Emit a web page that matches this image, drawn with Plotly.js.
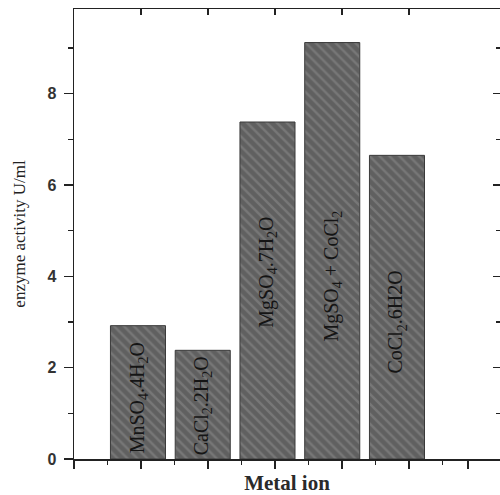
<!DOCTYPE html>
<html>
<head>
<meta charset="utf-8">
<script src="https://cdn.plot.ly/plotly-3.0.1.min.js"></script>
<style>html,body{margin:0;padding:0;background:#fff;}#chart{width:500px;height:495px;}</style>
</head>
<body>
<div id="chart"></div>
<script>
// ---- data ----
const categories = ["MnSO4.4H2O", "CaCl2.2H2O", "MgSO4.7H2O", "MgSO4 + CoCl2", "CoCl2.6H2O"];
const barLabels = [
  "MnSO<sub>4</sub>.4H<sub>2</sub>O",
  "CaCl<sub>2</sub>.2H<sub>2</sub>O",
  "MgSO<sub>4</sub>.7H<sub>2</sub>O",
  "MgSO<sub>4</sub> + CoCl<sub>2</sub>",
  "CoCl<sub>2</sub>.6H2O"
];
const activity = [2.92, 2.38, 7.38, 9.12, 6.65];
const yTickVals = [0, 2, 4, 6, 8];
const yTickText = ["0", "2", "4", "6", "8"];

// ---- layout helpers (placement only) ----
const labelY = [1.35, 1.17, 4.09, 4.0, 3.01];
const yRange = [0, 9.855];
const axisColor = '#222';

const traces = [
  {
    type: 'bar',
    x: categories,
    y: activity,
    width: 0.85,
    marker: {
      color: '#606060',
      line: {color: '#3a3a3a', width: 1},
      pattern: {shape: '\\', fillmode: 'overlay', bgcolor: '#606060', fgcolor: '#8e8e8e', size: 7, solidity: 0.35}
    },
    hoverinfo: 'x+y',
    showlegend: false
  },
  {type: 'scatter', mode: 'markers', x: [null], y: [null], xaxis: 'x2', yaxis: 'y', showlegend: false, hoverinfo: 'skip'},
  {type: 'scatter', mode: 'markers', x: [null], y: [null], xaxis: 'x3', yaxis: 'y', showlegend: false, hoverinfo: 'skip'},
  {type: 'scatter', mode: 'markers', x: [null], y: [null], xaxis: 'x', yaxis: 'y2', showlegend: false, hoverinfo: 'skip'}
];

const layout = {
  width: 500,
  height: 495,
  margin: {l: 74, r: 0, t: 9, b: 36},
  paper_bgcolor: '#fff',
  plot_bgcolor: '#fff',
  showlegend: false,
  xaxis: {
    type: 'category',
    range: [-0.988, 5.591],
    showline: true, linecolor: axisColor, linewidth: 1.5,
    ticks: '', showticklabels: false, showgrid: false, zeroline: false,
    automargin: false,
    title: {text: 'Metal ion', standoff: 17,
      font: {family: 'Liberation Serif', size: 21, weight: 'bold', color: '#2a2a2a'}}
  },
  xaxis2: {
    overlaying: 'x', anchor: 'y', side: 'bottom',
    range: [0, 6.358],
    tickmode: 'array', tickvals: [0, 1, 2, 3, 4, 5, 5.88],
    ticks: 'outside', ticklen: 9, tickwidth: 1.5, tickcolor: axisColor,
    minor: {tickmode: 'array', tickvals: [0.5, 1.5, 2.5, 3.5, 4.5, 5.5], ticks: 'outside', ticklen: 5, tickwidth: 1.5, tickcolor: axisColor, showgrid: false},
    showticklabels: false, showline: false, showgrid: false, zeroline: false
  },
  xaxis3: {
    overlaying: 'x', anchor: 'y', side: 'top',
    range: [0, 6.358],
    tickmode: 'array', tickvals: [1, 2, 3, 4, 5],
    ticks: 'inside', ticklen: 6, tickwidth: 1.5, tickcolor: axisColor,
    showticklabels: false, showline: true, linecolor: axisColor, linewidth: 1.5,
    showgrid: false, zeroline: false
  },
  yaxis: {
    range: yRange,
    tickmode: 'array', tickvals: yTickVals, ticktext: yTickText,
    ticks: 'outside', ticklen: 9, tickwidth: 1.5, tickcolor: axisColor,
    ticklabelstandoff: 4,
    minor: {dtick: 1, tick0: 0, ticks: 'outside', ticklen: 5, tickwidth: 1.5, tickcolor: axisColor, showgrid: false},
    showline: true, linecolor: axisColor, linewidth: 1.5,
    showgrid: false, zeroline: false, automargin: false,
    tickfont: {family: 'Liberation Sans', size: 16, weight: 'bold', color: '#333'},
    title: {text: 'enzyme activity U/ml', standoff: 17,
      font: {family: 'Liberation Serif', size: 17, color: '#222'}}
  },
  yaxis2: {
    overlaying: 'y', anchor: 'x', side: 'right',
    range: yRange,
    tickmode: 'array', tickvals: yTickVals,
    ticks: 'inside', ticklen: 7, tickwidth: 1.5, tickcolor: axisColor,
    minor: {dtick: 1, tick0: 0, ticks: 'inside', ticklen: 4, tickwidth: 1.5, tickcolor: axisColor, showgrid: false},
    showticklabels: false, showline: false, showgrid: false, zeroline: false
  },
  annotations: categories.map((c, i) => ({
    x: c, y: labelY[i], xref: 'x', yref: 'y',
    text: barLabels[i], textangle: -90, showarrow: false,
    font: {family: 'Liberation Serif', size: 20, color: '#151515'}
  }))
};

Plotly.newPlot('chart', traces, layout, {displayModeBar: false, staticPlot: true});
</script>
</body>
</html>
